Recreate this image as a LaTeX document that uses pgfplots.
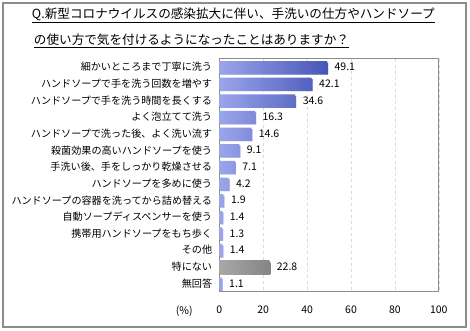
\documentclass[border=0pt]{standalone}
\usepackage{pgfplots}
\pgfplotsset{compat=1.18}
\usepackage{fontspec}
\setmainfont{Noto Sans CJK JP}
\definecolor{barL}{HTML}{9AA5EA}
\definecolor{barR}{HTML}{4656B8}
\definecolor{grayL}{HTML}{A8A8A8}
\definecolor{grayR}{HTML}{858585}
\definecolor{frame}{HTML}{8C8C8C}
\begin{document}
\begin{tikzpicture}
\useasboundingbox (-219.3pt,-38.3pt) rectangle (250.7pt,291.7pt);
\draw[frame, line width=1.2pt] (-216.3pt,-35.3pt) rectangle (246.7pt,288.7pt);
\node[anchor=west, inner sep=0pt, font=\fontsize{12.6}{14}\selectfont] at (-187.5pt,276.5pt) {\underline{Q.新型コロナウイルスの感染拡大に伴い、手洗いの仕方やハンドソープ}};
\node[anchor=west, inner sep=0pt, font=\fontsize{12.6}{14}\selectfont] at (-185.5pt,250.5pt) {\underline{の使い方で気を付けるようになったことはありますか？}};
\node[font=\fontsize{10.5}{12}\selectfont] at (-35pt,-20pt) {(\%)};
\begin{axis}[
  at={(0pt,0pt)}, anchor=south west,
  scale only axis, width=219.5pt, height=233pt,
  xmin=0, xmax=100, ymin=-0.5, ymax=13.5, y dir=reverse,
  xtick={0,20,...,100},
  ytick={0,...,13},
  yticklabels={細かいところまで丁寧に洗う,ハンドソープで手を洗う回数を増やす,ハンドソープで手を洗う時間を長くする,よく泡立てて洗う,ハンドソープで洗った後、よく洗い流す,殺菌効果の高いハンドソープを使う,手洗い後、手をしっかり乾燥させる,ハンドソープを多めに使う,ハンドソープの容器を洗ってから詰め替える,自動ソープディスペンサーを使う,携帯用ハンドソープをもち歩く,その他,特にない,無回答},
  yticklabel style={font=\fontsize{10.1}{11}\selectfont, inner sep=0pt, xshift=-7pt},
  xticklabel style={font=\fontsize{10.5}{12}\selectfont, yshift=-11pt},
  /pgf/number format/assume math mode=true,
  major tick length=0pt,
  xmajorgrids, grid style={dashed, gray!30},
  axis line style={frame, line width=0.8pt},
  xbar, bar width=12pt, bar shift=0pt,
  nodes near coords,
  nodes near coords style={font=\fontsize{10.5}{12}\selectfont, anchor=west, xshift=4pt, /pgf/number format/.cd, fixed, fixed zerofill, precision=1, assume math mode=true},
  clip=false,
]
\addplot[draw=none, left color=barL, right color=barR,
  preaction={fill=black!18, transform canvas={shift={(1pt,-1.5pt)}}}]
  coordinates {(49.1,0) (42.1,1) (34.6,2) (16.3,3) (14.6,4) (9.1,5) (7.1,6) (4.2,7) (1.9,8) (1.4,9) (1.3,10) (1.4,11) (1.1,13)};
\addplot[draw=none, left color=grayL, right color=grayR,
  preaction={fill=black!18, transform canvas={shift={(1pt,-1.5pt)}}}]
  coordinates {(22.8,12)};
\end{axis}
\end{tikzpicture}
\end{document}
